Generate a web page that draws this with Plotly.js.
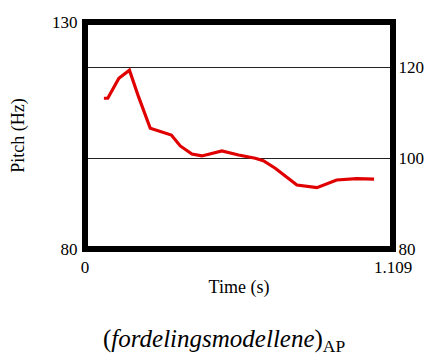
<!DOCTYPE html>
<html>
<head>
<meta charset="utf-8">
<script src="https://cdn.plot.ly/plotly-3.0.1.min.js"></script>
<style>html,body{margin:0;padding:0;background:#fff;}#chart{width:429px;height:355px;}</style>
</head>
<body>
<div id="chart"></div>
<script>
// Data
const timeS = [0.068, 0.082, 0.122, 0.160, 0.193, 0.235, 0.311, 0.343, 0.385, 0.421, 0.493, 0.553, 0.613, 0.642, 0.685, 0.763, 0.835, 0.906, 0.978, 1.041];
const pitchHz = [113.2, 113.2, 117.6, 119.4, 113.5, 106.6, 105.1, 102.7, 100.9, 100.5, 101.6, 100.7, 100.0, 99.45, 97.8, 94.1, 93.5, 95.2, 95.5, 95.4];
const xTickVals = [0, 1.109];
const xTickText = ['0', '1.109'];
const yLeftTicks = [80, 130];
const yRightTicks = [80, 100, 120];
const captionText = '(<i>fordelingsmodellene</i>)<sub>AP</sub>';

const serif = 'Times New Roman, Liberation Serif, serif';

const traces = [
  {x: timeS, y: pitchHz, type: 'scatter', mode: 'lines',
   line: {color: '#e00000', width: 3.2}, hoverinfo: 'skip', showlegend: false},
  {x: [0], y: [80], yaxis: 'y2', type: 'scatter', mode: 'markers',
   marker: {opacity: 0}, hoverinfo: 'skip', showlegend: false}
];

const layout = {
  width: 429, height: 355,
  margin: {l: 84.5, r: 36, t: 22, b: 106, pad: 0},
  paper_bgcolor: '#fff', plot_bgcolor: '#fff',
  font: {family: serif, size: 17, color: '#000'},
  showlegend: false,
  xaxis: {range: [0, 1.109], tickvals: xTickVals, ticktext: xTickText,
    showgrid: false, zeroline: false, showline: false,
    ticks: 'outside', ticklen: 3, tickcolor: 'rgba(0,0,0,0)',
    tickfont: {family: serif, size: 17},
    title: {text: 'Time (s)', font: {family: serif, size: 18}, standoff: 3}},
  yaxis: {range: [80, 130], tickvals: yLeftTicks, showgrid: false, zeroline: false,
    showline: false, ticks: 'outside', ticklen: 3, tickcolor: 'rgba(0,0,0,0)',
    tickfont: {family: serif, size: 17},
    title: {text: 'Pitch (Hz)', font: {family: serif, size: 18}, standoff: 22}},
  yaxis2: {range: [80, 130], tickvals: yRightTicks, overlaying: 'y', side: 'right',
    showgrid: true, gridcolor: '#222', gridwidth: 1, zeroline: false, showline: false,
    ticks: 'outside', ticklen: 1, tickcolor: 'rgba(0,0,0,0)',
    tickfont: {family: serif, size: 17}},
  shapes: [
    {type: 'rect', xref: 'paper', yref: 'paper', x0: 0, x1: 1, y0: 0, y1: 1,
     line: {color: '#000', width: 6}, layer: 'above'}
  ],
  annotations: [
    {text: captionText, xref: 'paper', yref: 'paper', x: 0.45, y: -0.405,
     xanchor: 'center', yanchor: 'middle', showarrow: false,
     font: {size: 25, family: serif, color: '#000'}}
  ]
};

Plotly.newPlot('chart', traces, layout, {staticPlot: true, displayModeBar: false});
</script>
</body>
</html>
